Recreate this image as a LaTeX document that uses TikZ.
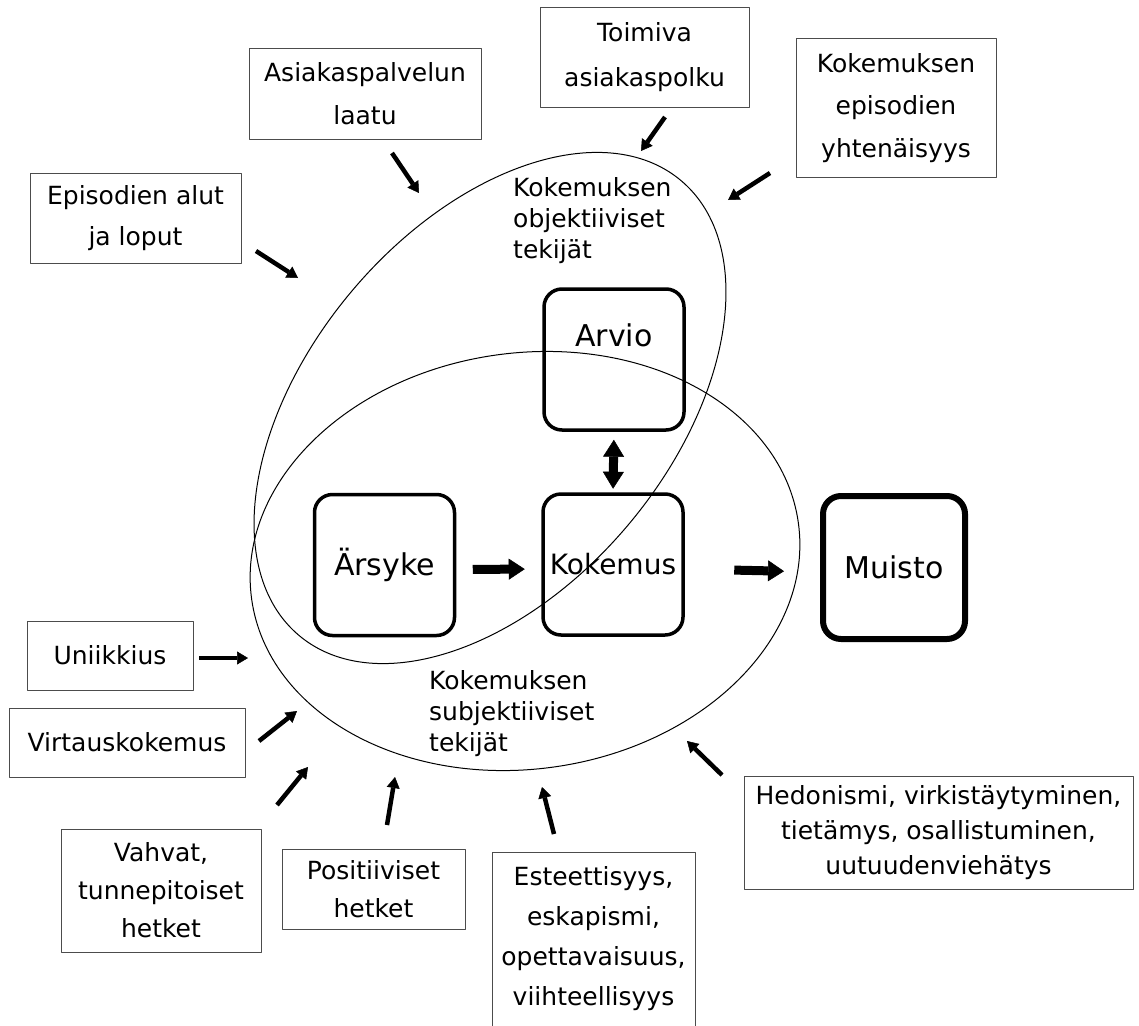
\documentclass[tikz,border=0pt]{standalone}
\usepackage{fontspec}
\setmainfont{DejaVu Sans}
\usetikzlibrary{arrows.meta}
\begin{document}
\begin{tikzpicture}[x=1pt,y=-1pt,line join=round,
	factor/.style={draw=black!70,line width=1pt,align=center,inner sep=0pt},
	stage/.style={draw,line width=3.5pt,rounded corners=18pt,minimum width=140pt,minimum height=141pt,inner sep=0pt,font=\fontsize{30}{36}\selectfont},
	area/.style={line width=1pt},
	inflow/.style={line width=4.5pt,-{Triangle[length=11pt,width=13pt,line width=0.5pt]}},
	flow/.style={line width=9pt,-{Triangle[length=16pt,width=21pt,line width=0.5pt]}}]
	\clip (0,0) rectangle (1139,1025);
	\draw[area,rotate around={50:(490,408)}] (490,408) ellipse [x radius=297pt,y radius=181pt];
	\draw[area,rotate around={8:(525,561)}] (525,561) ellipse [x radius=276pt,y radius=208pt];
	\node[anchor=north west,align=left,inner sep=0pt,font=\fontsize{25}{31}\selectfont] (objektiiviset) at (513,177) {Kokemuksen\\objektiiviset\\tekijät};
	\node[anchor=north west,align=left,inner sep=0pt,font=\fontsize{25}{31}\selectfont] (subjektiiviset) at (429,670) {Kokemuksen\\subjektiiviset\\tekijät};
	\node[factor,minimum width=232pt,minimum height=90pt,font=\fontsize{25}{43}\selectfont] (asiakas) at (365,94) {Asiakaspalvelun\\laatu};
	\node[factor,minimum width=209pt,minimum height=99pt,font=\fontsize{25}{45}\selectfont] (toimiva) at (644.5,57.5) {Toimiva\\asiakaspolku};
	\node[factor,minimum width=200pt,minimum height=138pt,font=\fontsize{25}{42.5}\selectfont] (yhtenaisyys) at (896,108) {Kokemuksen\\episodien\\yhtenäisyys};
	\node[factor,minimum width=211pt,minimum height=90pt,font=\fontsize{25}{41}\selectfont] (alut) at (135.5,218) {Episodien alut\\ja loput};
	\node[factor,minimum width=166pt,minimum height=69pt,font=\fontsize{25}{30}\selectfont] (uniikkius) at (110,655.5) {Uniikkius};
	\node[factor,minimum width=236pt,minimum height=69pt,font=\fontsize{25}{30}\selectfont] (virtaus) at (127,742.5) {Virtauskokemus};
	\node[factor,minimum width=200pt,minimum height=123pt,font=\fontsize{25}{38}\selectfont] (vahvat) at (161,890.5) {Vahvat,\\tunnepitoiset\\hetket};
	\node[factor,minimum width=183pt,minimum height=80pt,font=\fontsize{25}{38}\selectfont] (positiiviset) at (373.5,889) {Positiiviset\\hetket};
	\node[factor,minimum width=203pt,minimum height=174pt,font=\fontsize{25}{40}\selectfont] (esteettisyys) at (593.5,939) {Esteettisyys,\\eskapismi,\\opettavaisuus,\\viihteellisyys};
	\node[factor,minimum width=389pt,minimum height=113pt,font=\fontsize{25}{35}\selectfont] (hedonismi) at (938.5,832.5) {Hedonismi, virkistäytyminen,\\tietämys, osallistuminen,\\uutuudenviehätys};
	\node[stage,label={[yshift=24pt,font=\fontsize{30}{36}\selectfont]center:Arvio}] (arvio) at (614,359.5) {};
	\node[stage] (arsyke) at (384.5,565) {Ärsyke};
	\node[stage,font=\fontsize{28}{34}\selectfont] (kokemus) at (613,564.5) {Kokemus};
	\node[stage,line width=6pt,minimum width=142pt,minimum height=143pt] (muisto) at (894,567.5) {Muisto};
	\draw[flow,shorten <=16.5pt,shorten >=16.5pt] ([yshift=-4.5pt]arsyke.east) -- ([yshift=-4.5pt]kokemus.west);
	\draw[flow,shorten <=49.5pt,shorten >=36pt] ([yshift=-4.5pt]kokemus.east) -- ([yshift=-4.5pt]muisto.west);
	\draw[line width=9pt,{Triangle[length=17pt,width=21pt,line width=0.5pt]}-{Triangle[length=17pt,width=21pt,line width=0.5pt]},shorten <=8pt,shorten >=3.5pt] (arvio.south) -- (kokemus.north);
	\coordinate (asiakas-a) at (392,153);
	\coordinate (asiakas-b) at (419,193);
	\coordinate (toimiva-a) at (665,117);
	\coordinate (toimiva-b) at (641,151);
	\coordinate (yhtenaisyys-a) at (770,173);
	\coordinate (yhtenaisyys-b) at (728,200);
	\coordinate (alut-a) at (256,251);
	\coordinate (alut-b) at (298,278);
	\coordinate (uniikkius-a) at (199,658);
	\coordinate (uniikkius-b) at (248,658);
	\coordinate (virtaus-a) at (259,741);
	\coordinate (virtaus-b) at (297,711);
	\coordinate (vahvat-a) at (277,805);
	\coordinate (vahvat-b) at (308,767);
	\coordinate (positiiviset-a) at (387,825);
	\coordinate (positiiviset-b) at (395,777);
	\coordinate (esteettisyys-a) at (554,834);
	\coordinate (esteettisyys-b) at (542,787);
	\coordinate (hedonismi-a) at (722,775);
	\coordinate (hedonismi-b) at (687,741);
	\draw[inflow] (asiakas-a) -- (asiakas-b);
	\draw[inflow] (toimiva-a) -- (toimiva-b);
	\draw[inflow] (yhtenaisyys-a) -- (yhtenaisyys-b);
	\draw[inflow] (alut-a) -- (alut-b);
	\draw[inflow] (uniikkius-a) -- (uniikkius-b);
	\draw[inflow] (virtaus-a) -- (virtaus-b);
	\draw[inflow] (vahvat-a) -- (vahvat-b);
	\draw[inflow] (positiiviset-a) -- (positiiviset-b);
	\draw[inflow] (esteettisyys-a) -- (esteettisyys-b);
	\draw[inflow] (hedonismi-a) -- (hedonismi-b);
\end{tikzpicture}
\end{document}
